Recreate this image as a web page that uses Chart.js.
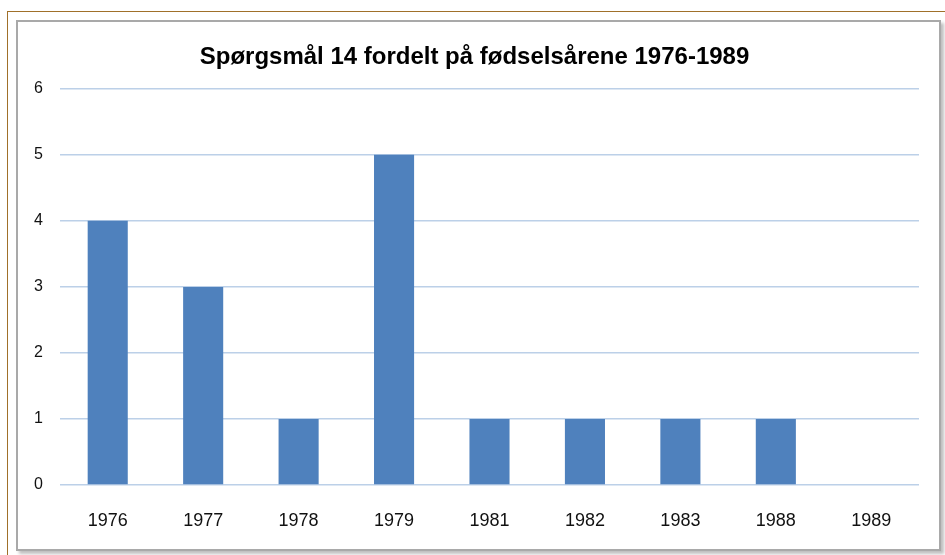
<!DOCTYPE html>
<html>
<head>
<meta charset="utf-8">
<script src="https://cdn.jsdelivr.net/npm/chart.js@4"></script>
<style>
  html, body { margin: 0; padding: 0; background: #fff; }
  body { width: 945px; height: 555px; position: relative; overflow: hidden; }
  #brownTop { position: absolute; left: 7px; top: 11px; width: 938px; height: 1px; background: #A0702A; }
  #brownLeft { position: absolute; left: 7px; top: 11px; width: 1px; height: 544px; background: #A0702A; }
  #frame { position: absolute; left: 16px; top: 20px; width: 921px; height: 527px; border: 2px solid #A9A9A9; box-shadow: 3px 3px 3px rgba(0,0,0,0.25); background: #fff; }
  #wrap { position: absolute; left: 0; top: 0; width: 945px; height: 555px; }
</style>
</head>
<body>
<div id="brownTop"></div>
<div id="brownLeft"></div>
<div id="frame"></div>
<div id="wrap"><canvas id="c" width="945" height="555"></canvas></div>
<script>
const categories = ["1976", "1977", "1978", "1979", "1981", "1982", "1983", "1988", "1989"];
const values = [4, 3, 1, 5, 1, 1, 1, 1, 0];
const yTicks = [0, 1, 2, 3, 4, 5, 6];
const titleText = "Spørgsmål 14 fordelt på fødselsårene 1976-1989";

new Chart(document.getElementById("c"), {
  type: "bar",
  data: {
    labels: categories,
    datasets: [{
      data: values,
      backgroundColor: "#4F81BD",
      borderWidth: 0,
      barPercentage: 0.42,
      categoryPercentage: 1.0
    }]
  },
  options: {
    responsive: false,
    animation: false,
    layout: { padding: { left: 30, right: 26, top: 0, bottom: 0 } },
    plugins: {
      legend: { display: false },
      tooltip: { enabled: false },
      title: {
        display: true,
        text: titleText,
        color: "#000",
        font: { family: "'Liberation Sans', Arial, sans-serif", size: 24, weight: "bold", lineHeight: 1.2 },
        padding: { top: 43, bottom: 17 }
      }
    },
    scales: {
      x: {
        grid: { display: false, drawTicks: false },
        border: { display: false },
        ticks: {
          color: "#111",
          font: { family: "'Liberation Sans', Arial, sans-serif", size: 18 },
          padding: 25,
          maxRotation: 0
        },
        afterFit: (s) => { s.height = 70; }
      },
      y: {
        min: 0,
        max: 6,
        afterBuildTicks: (s) => { s.ticks = yTicks.map(v => ({ value: v })); },
        grid: { color: "#BCD0E8", lineWidth: 1.5, drawTicks: false },
        border: { display: false },
        ticks: {
          color: "#111",
          font: { family: "'Liberation Sans', Arial, sans-serif", size: 16 },
          padding: 17
        },
        afterFit: (s) => { s.width = 30; }
      }
    }
  }
});
</script>
</body>
</html>
